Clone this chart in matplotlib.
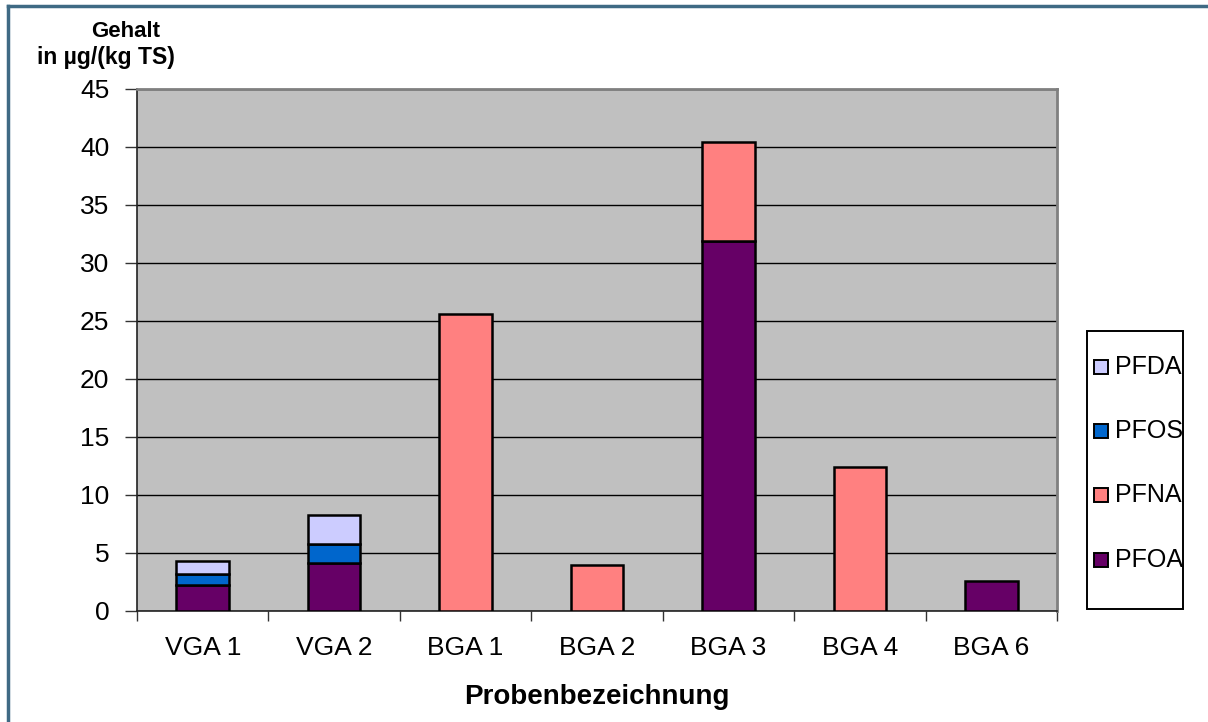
import matplotlib
matplotlib.use("Agg")
import matplotlib.pyplot as plt
from matplotlib.patches import Rectangle
from matplotlib.lines import Line2D
import numpy as np

plt.rcParams['font.family'] = ['Liberation Sans', 'DejaVu Sans']

categories = ["VGA 1", "VGA 2", "BGA 1", "BGA 2", "BGA 3", "BGA 4", "BGA 6"]
pfoa = [2.25, 4.15, 0.0, 0.0, 31.9, 0.0, 2.6]
pfna = [0.0, 0.0, 25.6, 4.0, 8.55, 12.4, 0.0]
pfos = [0.95, 1.65, 0.0, 0.0, 0.0, 0.0, 0.0]
pfda = [1.15, 2.45, 0.0, 0.0, 0.0, 0.0, 0.0]

series = [("PFOA", pfoa, "#660066"),
          ("PFNA", pfna, "#FF8080"),
          ("PFOS", pfos, "#0066CC"),
          ("PFDA", pfda, "#CCCCFF")]

yticks = [0, 5, 10, 15, 20, 25, 30, 35, 40, 45]

W, H = 1208, 722
fig = plt.figure(figsize=(W / 100, H / 100), dpi=100)
fig.patch.set_facecolor("white")

ax = fig.add_axes([137 / W, 1 - 611 / H, (1057 - 137) / W, (611 - 89) / H])
ax.set_facecolor("#C0C0C0")

x = np.arange(len(categories))
bottom = np.zeros(len(categories))
for name, vals, color in series:
    vals = np.array(vals)
    mask = vals > 0
    ax.bar(x[mask], vals[mask], width=0.4, bottom=bottom[mask], color=color,
           edgecolor="black", linewidth=1.8, zorder=3)
    bottom += vals

ax.set_xlim(-0.5, len(categories) - 0.5)
ax.set_ylim(0, 45)
ax.set_yticks(yticks)
ax.set_yticklabels([str(v) for v in yticks], fontsize=19)
ax.yaxis.grid(True, color="black", linewidth=1.0, zorder=1)
ax.set_axisbelow(True)

ax.set_xticks(np.arange(-0.5, len(categories), 1.0))
ax.set_xticklabels([])
ax.set_xticks(x, minor=True)
ax.set_xticklabels(categories, minor=True, fontsize=19)
ax.tick_params(axis="x", which="major", length=7, width=1.0, color="#333333", direction="out")
ax.tick_params(axis="x", which="minor", length=0, pad=18)
ax.tick_params(axis="y", length=9, width=1.0, color="#333333", direction="out", pad=11)

for side in ("top", "right"):
    ax.spines[side].set_color("#808080")
    ax.spines[side].set_linewidth(2)
for side in ("left", "bottom"):
    ax.spines[side].set_color("#222222")
    ax.spines[side].set_linewidth(1.2)

ax.set_xlabel("Probenbezeichnung", fontsize=20, fontweight="bold", labelpad=17)

fig.text(126 / W, 1 - 37 / H, "Gehalt", fontsize=16, fontweight="bold",
         ha="center", va="baseline")
fig.text(106 / W, 1 - 64 / H, "in µg/(kg TS)", fontsize=16.5, fontweight="bold",
         ha="center", va="baseline")

# legend box, entries listed top to bottom in reverse stacking order
fig.add_artist(Rectangle((1087 / W, 1 - 609 / H), (1183 - 1087) / W, (609 - 331) / H,
                         transform=fig.transFigure, facecolor="white",
                         edgecolor="black", linewidth=1.4))
entry_y = [367, 431, 495, 560]
for (name, _, color), yy in zip(reversed(series), entry_y):
    fig.add_artist(Rectangle((1094 / W, 1 - (yy + 7) / H), 14 / W, 14 / H,
                             transform=fig.transFigure, facecolor=color,
                             edgecolor="black", linewidth=1.4))
    fig.text(1115 / W, 1 - yy / H, name, fontsize=18, ha="left", va="center")

# outer chart frame
fig.add_artist(Line2D([8 / W, 8 / W], [0, 1 - 6 / H], transform=fig.transFigure,
                      color="#3F6A84", linewidth=2.5))
fig.add_artist(Line2D([8 / W, 1], [1 - 6 / H, 1 - 6 / H], transform=fig.transFigure,
                      color="#3F6A84", linewidth=2.5))

fig.savefig("out.png", dpi=100)
